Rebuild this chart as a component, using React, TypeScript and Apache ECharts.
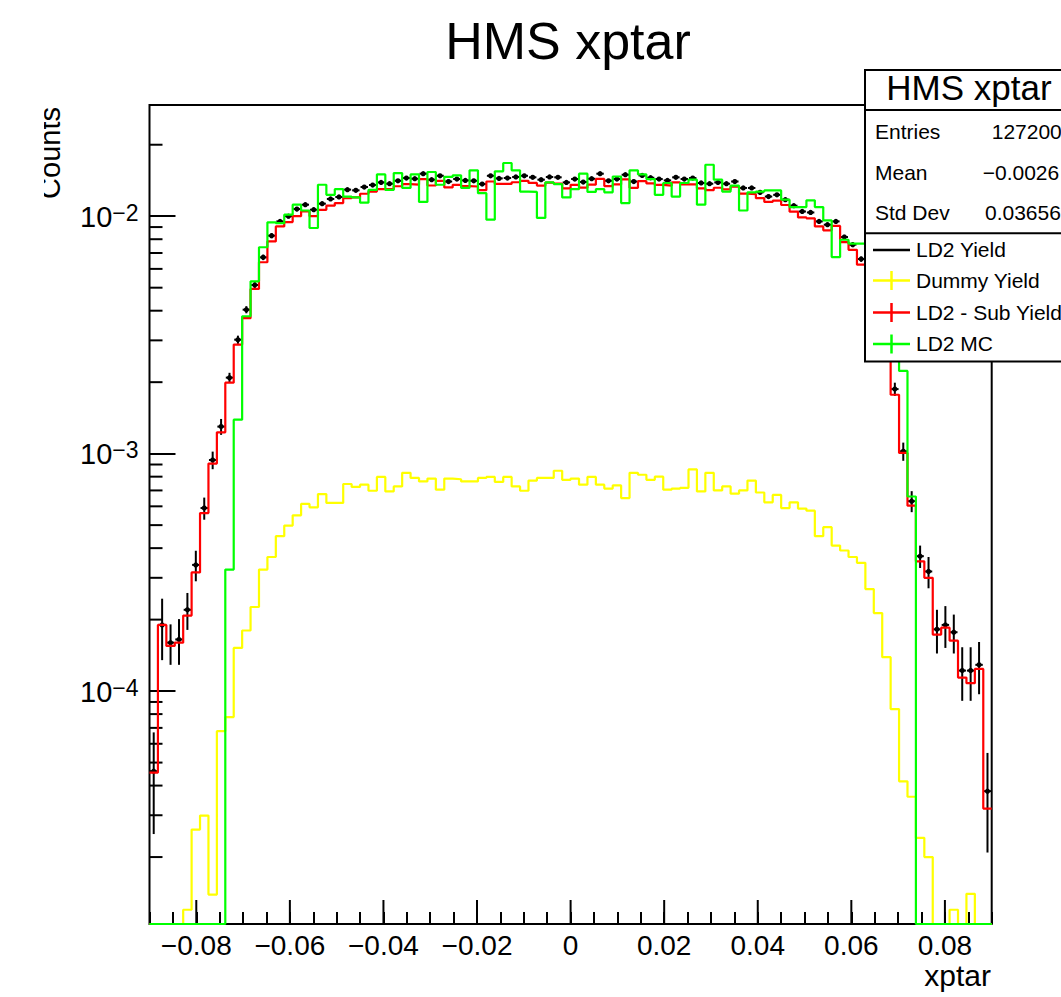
import React, { useEffect, useRef } from 'react';
import * as echarts from 'echarts';

// ---- axis ranges & binning (ROOT TH1: 100 bins in [-0.09, 0.09]) ----
const X_MIN = -0.09;
const X_MAX = 0.09;
const N_BINS = 100;
const Y_MIN = 1.045e-5;
const Y_MAX = 0.0294;

const X_MAJOR_TICKS = [-0.08, -0.06, -0.04, -0.02, 0, 0.02, 0.04, 0.06, 0.08];
const Y_DECADES = [1e-5, 1e-4, 1e-3, 1e-2];
const Y_MINOR_MULT = [2, 3, 4, 5, 6, 7, 8, 9];

// ---- data (per bin) ----
const LD2_YIELD = [
  4.6e-5, 1.9e-4, 1.6e-4, 1.65e-4, 2.2e-4, 3.4e-4, 5.9e-4, 9.4e-4, 1.3e-3, 2.09e-3,
  3.02e-3, 4.04e-3, 5.13e-3, 6.71e-3, 8.28e-3, 9.51e-3, 1.0e-2, 1.072e-2, 1.118e-2, 1.065e-2,
  1.129e-2, 1.182e-2, 1.205e-2, 1.294e-2, 1.285e-2, 1.327e-2, 1.353e-2, 1.388e-2, 1.37e-2, 1.41e-2,
  1.448e-2, 1.438e-2, 1.51e-2, 1.425e-2, 1.48e-2, 1.40e-2, 1.434e-2, 1.415e-2, 1.41e-2, 1.366e-2,
  1.48e-2, 1.443e-2, 1.448e-2, 1.463e-2, 1.48e-2, 1.458e-2, 1.425e-2, 1.463e-2, 1.458e-2, 1.388e-2,
  1.434e-2, 1.393e-2, 1.438e-2, 1.51e-2, 1.41e-2, 1.434e-2, 1.495e-2, 1.40e-2, 1.485e-2, 1.452e-2,
  1.434e-2, 1.415e-2, 1.458e-2, 1.434e-2, 1.448e-2, 1.38e-2, 1.37e-2, 1.388e-2, 1.37e-2, 1.40e-2,
  1.315e-2, 1.315e-2, 1.26e-2, 1.21e-2, 1.23e-2, 1.174e-2, 1.107e-2, 1.047e-2, 1.037e-2, 9.51e-3,
  9.21e-3, 9.51e-3, 8.17e-3, 7.59e-3, 6.6e-3, 5.3e-3, 4.2e-3, 2.9e-3, 1.87e-3, 1.023e-3,
  6.31e-4, 3.7e-4, 3.19e-4, 1.82e-4, 1.9e-4, 1.77e-4, 1.22e-4, 1.22e-4, 1.29e-4, 3.79e-5,
];

const LD2_YIELD_ERR = [
  2.1e-5, 5.5e-5, 3.1e-5, 3.6e-5, 3.9e-5, 5.0e-5, 6.3e-5, 8.0e-5, 1.0e-4, 1.0e-4,
  1.2e-4, 1.4e-4, 1.6e-4, 1.8e-4, 2.0e-4, 2.1e-4, 2.1e-4, 2.2e-4, 2.2e-4, 2.2e-4,
  2.2e-4, 2.3e-4, 2.3e-4, 2.3e-4, 2.3e-4, 2.4e-4, 2.4e-4, 2.4e-4, 2.4e-4, 2.4e-4,
  2.5e-4, 2.4e-4, 2.5e-4, 2.4e-4, 2.5e-4, 2.4e-4, 2.4e-4, 2.4e-4, 2.4e-4, 2.4e-4,
  2.5e-4, 2.4e-4, 2.4e-4, 2.5e-4, 2.5e-4, 2.4e-4, 2.4e-4, 2.5e-4, 2.4e-4, 2.4e-4,
  2.4e-4, 2.4e-4, 2.4e-4, 2.5e-4, 2.4e-4, 2.4e-4, 2.5e-4, 2.4e-4, 2.5e-4, 2.4e-4,
  2.4e-4, 2.4e-4, 2.4e-4, 2.4e-4, 2.4e-4, 2.4e-4, 2.4e-4, 2.4e-4, 2.4e-4, 2.4e-4,
  2.3e-4, 2.3e-4, 2.3e-4, 2.2e-4, 2.2e-4, 2.2e-4, 2.1e-4, 2.1e-4, 2.1e-4, 2.0e-4,
  1.9e-4, 2.0e-4, 1.8e-4, 1.8e-4, 1.7e-4, 2.0e-4, 1.8e-4, 1.5e-4, 1.2e-4, 9.0e-5,
  6.4e-5, 4.0e-5, 4.8e-5, 3.8e-5, 3.8e-5, 3.3e-5, 3.1e-5, 3.1e-5, 3.2e-5, 1.7e-5,
];

const DUMMY_YIELD = [
  0, 0, 0, 0, 1.2e-5, 2.61e-5, 2.99e-5, 1.39e-5, 6.78e-5, 7.77e-5,
  1.52e-4, 1.8e-4, 2.26e-4, 3.25e-4, 3.67e-4, 4.49e-4, 4.98e-4, 5.5e-4, 6.14e-4, 5.94e-4,
  6.76e-4, 6.2e-4, 6.2e-4, 7.45e-4, 7.24e-4, 7.4e-4, 6.98e-4, 7.98e-4, 6.93e-4, 7.28e-4,
  8.3e-4, 7.9e-4, 7.64e-4, 7.85e-4, 7.05e-4, 7.85e-4, 7.8e-4, 7.64e-4, 7.64e-4, 7.9e-4,
  7.98e-4, 7.6e-4, 7.98e-4, 7.28e-4, 6.98e-4, 7.7e-4, 7.9e-4, 7.9e-4, 8.47e-4, 7.76e-4,
  7.85e-4, 7.4e-4, 7.98e-4, 7.4e-4, 7.13e-4, 7.35e-4, 6.5e-4, 8.3e-4, 8.15e-4, 7.76e-4,
  8.0e-4, 7.05e-4, 7.13e-4, 7.18e-4, 8.58e-4, 6.93e-4, 8.3e-4, 7.0e-4, 7.28e-4, 6.78e-4,
  7.0e-4, 7.7e-4, 6.86e-4, 6.24e-4, 6.7e-4, 5.9e-4, 6.24e-4, 5.87e-4, 5.75e-4, 4.49e-4,
  4.9e-4, 4.1e-4, 3.91e-4, 3.67e-4, 3.47e-4, 2.69e-4, 2.13e-4, 1.39e-4, 8.4e-5, 4.17e-5,
  3.59e-5, 2.41e-5, 2.0e-5, 0, 0, 1.2e-5, 0, 1.4e-5, 0, 0,
];

const LD2_SUB_YIELD = [
  4.54e-5, 1.9e-4, 1.55e-4, 1.6e-4, 2.08e-4, 3.16e-4, 5.62e-4, 9.08e-4, 1.23e-3, 1.99e-3,
  2.88e-3, 3.72e-3, 4.94e-3, 6.4e-3, 7.83e-3, 9.06e-3, 9.45e-3, 1.0e-2, 1.047e-2, 1.0e-2,
  1.064e-2, 1.107e-2, 1.136e-2, 1.19e-2, 1.2e-2, 1.243e-2, 1.27e-2, 1.3e-2, 1.3e-2, 1.337e-2,
  1.365e-2, 1.359e-2, 1.434e-2, 1.347e-2, 1.41e-2, 1.322e-2, 1.356e-2, 1.339e-2, 1.334e-2, 1.287e-2,
  1.40e-2, 1.367e-2, 1.368e-2, 1.39e-2, 1.41e-2, 1.381e-2, 1.346e-2, 1.384e-2, 1.373e-2, 1.31e-2,
  1.356e-2, 1.319e-2, 1.358e-2, 1.436e-2, 1.339e-2, 1.361e-2, 1.43e-2, 1.317e-2, 1.404e-2, 1.374e-2,
  1.354e-2, 1.345e-2, 1.387e-2, 1.362e-2, 1.362e-2, 1.311e-2, 1.287e-2, 1.318e-2, 1.297e-2, 1.332e-2,
  1.245e-2, 1.238e-2, 1.191e-2, 1.148e-2, 1.163e-2, 1.115e-2, 1.045e-2, 9.88e-3, 9.8e-3, 9.06e-3,
  8.72e-3, 9.1e-3, 7.78e-3, 7.22e-3, 6.25e-3, 5.0e-3, 4.0e-3, 2.76e-3, 1.77e-3, 1.007e-3,
  6.04e-4, 3.52e-4, 3.0e-4, 1.73e-4, 1.85e-4, 1.63e-4, 1.14e-4, 1.08e-4, 1.24e-4, 3.2e-5,
];

const LD2_MC = [
  0, 0, 0, 0, 0, 0, 0, 0, 0, 3.25e-4,
  1.39e-3, 3.79e-3, 5.32e-3, 7.4e-3, 9.42e-3, 9.35e-3, 1.015e-2, 1.118e-2, 1.057e-2, 8.92e-3,
  1.357e-2, 1.23e-2, 1.3e-2, 1.21e-2, 1.2e-2, 1.14e-2, 1.29e-2, 1.5e-2, 1.29e-2, 1.52e-2,
  1.315e-2, 1.5e-2, 1.148e-2, 1.535e-2, 1.357e-2, 1.463e-2, 1.486e-2, 1.315e-2, 1.56e-2, 1.25e-2,
  9.67e-3, 1.545e-2, 1.675e-2, 1.56e-2, 1.27e-2, 1.265e-2, 9.83e-3, 1.388e-2, 1.366e-2, 1.2e-2,
  1.3e-2, 1.51e-2, 1.265e-2, 1.3e-2, 1.26e-2, 1.47e-2, 1.136e-2, 1.56e-2, 1.5e-2, 1.434e-2,
  1.23e-2, 1.38e-2, 1.21e-2, 1.38e-2, 1.425e-2, 1.118e-2, 1.647e-2, 1.425e-2, 1.27e-2, 1.345e-2,
  1.057e-2, 1.26e-2, 1.27e-2, 1.284e-2, 1.284e-2, 1.174e-2, 1.093e-2, 1.093e-2, 1.166e-2, 1.093e-2,
  9.6e-3, 6.73e-3, 7.96e-3, 7.66e-3, 7.66e-3, 6.8e-3, 5.8e-3, 4.6e-3, 3.3e-3, 2.23e-3,
  6.6e-4, 0, 0, 0, 0, 0, 0, 0, 0, 0,
];

const STATS_LABELS = ['Entries', 'Mean', 'Std Dev'];
const STATS_VALUES = ['127200', '\u22120.0026', '0.03656'];
const LEGEND_LABELS = ['LD2 Yield', 'Dummy Yield', 'LD2 - Sub Yield', 'LD2 MC'];
const LEGEND_COLORS = ['#000000', '#ffff00', '#ff0000', '#00ff00'];

const FONT = '"Liberation Sans", Arial, Helvetica, sans-serif';

const BIN_W = (X_MAX - X_MIN) / N_BINS;
const edge = (i: number) => X_MIN + i * BIN_W;

function histData(values: number[]) {
  const pts: number[][] = values.map((v, i) => [edge(i), v > 0 ? v : Y_MIN]);
  const last = values[values.length - 1];
  pts.push([edge(values.length), last > 0 ? last : Y_MIN]);
  return pts;
}

function histSeries(name: string, values: number[], color: string) {
  return {
    name,
    type: 'line',
    step: 'end',
    data: histData(values),
    symbol: 'none',
    clip: false,
    silent: true,
    lineStyle: { color, width: 2.2 },
    itemStyle: { color },
  };
}

export default function App() {
  const ref = useRef<HTMLDivElement>(null);

  useEffect(() => {
    if (!ref.current) return;
    const chart = echarts.init(ref.current, null, { renderer: 'svg' });

    const yMinor: number[] = [];
    Y_DECADES.forEach((d) =>
      Y_MINOR_MULT.forEach((m) => {
        const v = d * m;
        if (v > Y_MIN && v < Y_MAX) yMinor.push(v);
      })
    );

    const blackData = LD2_YIELD.map((v, i) => [
      edge(i) + BIN_W / 2,
      v,
      LD2_YIELD_ERR[i],
      edge(i),
      edge(i + 1),
    ]);

    const boxX = 865;
    const legendY = [250, 280.5, 312.5, 344];
    const statsY = [131, 172, 212.8];
    const statsValX = [991.7, 982.7, 985];

    const graphic: any[] = [
      {
        type: 'text',
        x: 568,
        y: 41,
        style: { text: 'HMS xptar', font: `52px ${FONT}`, fill: '#000', align: 'center', verticalAlign: 'middle' },
      },
      {
        type: 'text',
        x: 50,
        y: 107,
        rotation: Math.PI / 2,
        style: { text: 'Counts', font: `29px ${FONT}`, fill: '#000', align: 'right', verticalAlign: 'middle' },
      },
      { type: 'rect', shape: { x: 0, y: 95, width: 44, height: 120 }, style: { fill: '#fff' }, z: 101 },
      {
        type: 'text',
        x: 991,
        y: 975,
        style: { text: 'xptar', font: `30px ${FONT}`, fill: '#000', align: 'right', verticalAlign: 'middle' },
      },
      {
        type: 'rect',
        z: 100,
        shape: { x: boxX, y: 70, width: 240, height: 291.5 },
        style: { fill: '#fff', stroke: '#000', lineWidth: 2 },
      },
      {
        type: 'line',
        z: 101,
        shape: { x1: boxX, y1: 110, x2: 1061, y2: 110 },
        style: { stroke: '#000', lineWidth: 2 },
      },
      {
        type: 'line',
        z: 101,
        shape: { x1: boxX, y1: 233.3, x2: 1061, y2: 233.3 },
        style: { stroke: '#000', lineWidth: 2 },
      },
      {
        type: 'text',
        z: 102,
        x: 969,
        y: 87,
        style: { text: 'HMS xptar', font: `35px ${FONT}`, fill: '#000', align: 'center', verticalAlign: 'middle' },
      },
    ];

    STATS_LABELS.forEach((lab, k) => {
      graphic.push({
        type: 'text',
        z: 102,
        x: 875,
        y: statsY[k],
        style: { text: lab, font: `21px ${FONT}`, fill: '#000', align: 'left', verticalAlign: 'middle' },
      });
      graphic.push({
        type: 'text',
        z: 102,
        x: statsValX[k],
        y: statsY[k],
        style: { text: STATS_VALUES[k], font: `21px ${FONT}`, fill: '#000', align: 'left', verticalAlign: 'middle' },
      });
    });

    LEGEND_LABELS.forEach((lab, k) => {
      const y = legendY[k];
      const c = LEGEND_COLORS[k];
      graphic.push({
        type: 'line',
        z: 102,
        shape: { x1: 873, y1: y, x2: 910, y2: y },
        style: { stroke: c, lineWidth: 2.5 },
      });
      if (k > 0) {
        graphic.push({
          type: 'line',
          z: 102,
          shape: { x1: 891.5, y1: y - 9.5, x2: 891.5, y2: y + 9.5 },
          style: { stroke: c, lineWidth: 2.5 },
        });
      }
      graphic.push({
        type: 'text',
        z: 102,
        x: 916,
        y: y - 0.5,
        style: { text: lab, font: `21px ${FONT}`, fill: '#000', align: 'left', verticalAlign: 'middle' },
      });
    });

    const option: any = {
      animation: false,
      backgroundColor: '#ffffff',
      grid: {
        left: 149.5,
        top: 105,
        right: 1061 - 991.7,
        bottom: 997 - 924,
        show: true,
        borderColor: '#000',
        borderWidth: 2,
        backgroundColor: 'transparent',
        containLabel: false,
      },
      xAxis: {
        type: 'value',
        min: X_MIN,
        max: X_MAX,
        interval: 0.005,
        position: 'bottom',
        axisLine: { show: false, onZero: false },
        splitLine: { show: false },
        axisTick: { show: true, inside: true, length: 12, lineStyle: { color: '#000', width: 2 } },
        axisLabel: {
          show: true,
          margin: 7,
          color: '#000',
          fontSize: 28,
          fontFamily: FONT,
          formatter: (v: number) => {
            const k = Math.round(v / 0.02);
            if (Math.abs(k * 0.02 - v) > 1e-9) return '';
            if (Math.abs(v) < 1e-12) return '0';
            if (Math.abs(v) > 0.085) return '';
            return (v < 0 ? '\u2212' : '') + Math.abs(v).toFixed(2);
          },
        },
      },
      yAxis: {
        type: 'log',
        logBase: 10,
        min: Y_MIN,
        max: Y_MAX,
        position: 'left',
        axisLine: { show: false, onZero: false },
        splitLine: { show: false },
        axisTick: { show: true, inside: true, length: 26, lineStyle: { color: '#000', width: 2 } },
        axisLabel: {
          show: true,
          margin: 11,
          formatter: (v: number) => {
            const e = Math.log10(v);
            const k = Math.round(e);
            if (Math.abs(e - k) > 1e-6) return '';
            return `{b|10}{s|\u2212${-k}}`;
          },
          rich: {
            b: { fontSize: 29, fontFamily: FONT, color: '#000', lineHeight: 30, padding: [9, 0, 0, 0], verticalAlign: 'bottom' },
            s: { fontSize: 23, fontFamily: FONT, color: '#000', lineHeight: 22, verticalAlign: 'top' },
          },
        },
      },
      series: [
        histSeries('Dummy Yield', DUMMY_YIELD, '#ffff00'),
        histSeries('LD2 - Sub Yield', LD2_SUB_YIELD, '#ff0000'),
        histSeries('LD2 MC', LD2_MC, '#00ff00'),
        {
          name: 'LD2 Yield',
          type: 'custom',
          silent: true,
          data: blackData,
          encode: { x: 0, y: 1 },
          renderItem: (params: any, api: any) => {
            const xc = api.value(0);
            const v = api.value(1);
            const e = api.value(2);
            const xl = api.value(3);
            const xr = api.value(4);
            const pc = api.coord([xc, v]);
            const pl = api.coord([xl, v]);
            const pr = api.coord([xr, v]);
            const pHi = api.coord([xc, v + e]);
            const pLo = api.coord([xc, Math.max(v - e, Y_MIN)]);
            return {
              type: 'group',
              children: [
                { type: 'line', shape: { x1: pl[0] + 0.5, y1: pc[1], x2: pr[0] - 0.5, y2: pc[1] }, style: { stroke: '#000', lineWidth: 2 } },
                { type: 'line', shape: { x1: pc[0], y1: pHi[1], x2: pc[0], y2: pLo[1] }, style: { stroke: '#000', lineWidth: 2 } },
                { type: 'circle', shape: { cx: pc[0], cy: pc[1], r: 2.6 }, style: { fill: '#000' } },
              ],
            };
          },
        },
        {
          name: 'yMinorTicks',
          type: 'custom',
          silent: true,
          data: yMinor.map((v) => [X_MIN, v]),
          encode: { x: 0, y: 1 },
          renderItem: (params: any, api: any) => {
            const p = api.coord([api.value(0), api.value(1)]);
            return { type: 'line', shape: { x1: p[0], y1: p[1], x2: p[0] + 13, y2: p[1] }, style: { stroke: '#000', lineWidth: 2 } };
          },
        },
        {
          name: 'xMajorTicks',
          type: 'custom',
          silent: true,
          data: X_MAJOR_TICKS.map((v) => [v, Y_MIN]),
          encode: { x: 0, y: 1 },
          renderItem: (params: any, api: any) => {
            const p = api.coord([api.value(0), api.value(1)]);
            return { type: 'line', shape: { x1: p[0], y1: p[1], x2: p[0], y2: p[1] - 24 }, style: { stroke: '#000', lineWidth: 2 } };
          },
        },
      ],
      graphic,
    };

    chart.setOption(option);
    return () => chart.dispose();
  }, []);

  return (
    <div
      ref={ref}
      style={{ position: 'absolute', left: 0, top: 0, width: 1061, height: 997, background: '#fff' }}
    />
  );
}
